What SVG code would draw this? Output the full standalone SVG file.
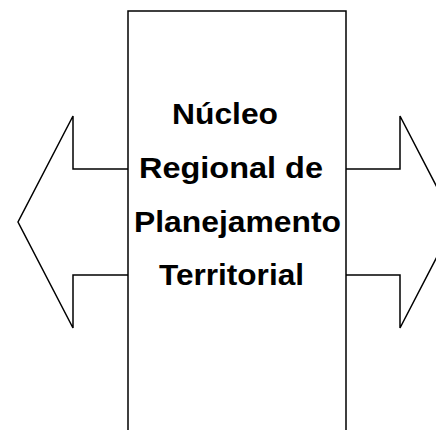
<svg xmlns="http://www.w3.org/2000/svg" width="436" height="430" viewBox="0 0 436 430">
<style>
.ln{fill:none;stroke:#000;stroke-width:1.5;stroke-linejoin:miter}
.t{font-family:"Liberation Sans",Arial,sans-serif;font-weight:bold;font-size:29px;fill:#000}
</style>
<rect width="436" height="430" fill="#fff"/>
<g id="left-arrow">
<polyline class="ln" points="128,169 73,169 73,116 18,222 73,328 73,275 128,275"/>
</g>
<g id="right-arrow">
<polyline class="ln" points="346,169 400,169 400,116 455,222 400,328 400,275 346,275"/>
</g>
<g id="center-node">
<polyline class="ln" points="128,432 128,11 346,11 346,432"/>
<text class="t" x="172" y="124" textLength="106" lengthAdjust="spacingAndGlyphs">Núcleo</text>
<text class="t" x="139" y="178" textLength="184" lengthAdjust="spacingAndGlyphs">Regional de</text>
<text class="t" x="134" y="232" textLength="207" lengthAdjust="spacingAndGlyphs">Planejamento</text>
<text class="t" x="159" y="285" textLength="145" lengthAdjust="spacingAndGlyphs">Territorial</text>
</g>
<g id="connectors"/>
</svg>
